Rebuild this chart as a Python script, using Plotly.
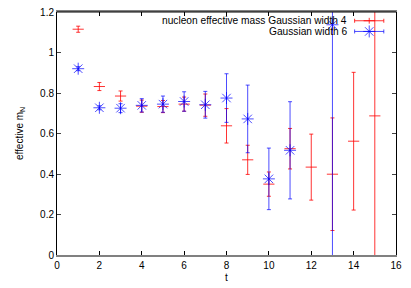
import plotly.graph_objects as go

t4 = [1, 2, 3, 4, 5, 6, 7, 8, 9, 10, 11, 12, 13, 14, 15]
m4 = [1.115, 0.832, 0.785, 0.735, 0.733, 0.745, 0.74, 0.638, 0.47, 0.35, 0.525, 0.434, 0.399, 0.562, 0.687]
e4 = [0.015, 0.02, 0.025, 0.03, 0.03, 0.035, 0.055, 0.085, 0.072, 0.06, 0.10, 0.163, 0.278, 0.34, 0.8]

t6 = [1, 2, 3, 4, 5, 6, 7, 8, 9, 10, 11, 13]
m6 = [0.92, 0.727, 0.725, 0.739, 0.745, 0.758, 0.742, 0.775, 0.672, 0.376, 0.517, 1.137]
e6 = [0.01, 0.01, 0.022, 0.033, 0.04, 0.048, 0.066, 0.12, 0.167, 0.152, 0.24, 1.4]

labels = ["nucleon effective mass Gaussian width 4", "Gaussian width 6"]
xticks = [0, 2, 4, 6, 8, 10, 12, 14, 16]
yticks = [0, 0.2, 0.4, 0.6, 0.8, 1.0, 1.2]
yticktext = ["0", "0.2", "0.4", "0.6", "0.8", "1", "1.2"]

RED = "rgba(255,0,0,0.8)"
BLUE = "rgba(0,0,255,0.7)"
FONT = "Liberation Sans, Arial, sans-serif"

fig = go.Figure()
fig.add_trace(go.Scatter(
    x=t4, y=m4, mode="markers",
    marker=dict(symbol="line-ew", size=8, line=dict(color=RED, width=1), color=RED),
    error_y=dict(type="data", array=e4, color=RED, thickness=1, width=2),
    showlegend=False, cliponaxis=True))
fig.add_trace(go.Scatter(
    x=t6, y=m6, mode="markers",
    marker=dict(symbol="asterisk-open", size=10, line=dict(color=BLUE, width=1), color=BLUE),
    error_y=dict(type="data", array=e6, color=BLUE, thickness=1, width=2),
    showlegend=False, cliponaxis=True))

# legend key samples on a hidden overlay axis (0..1 in plot area)
key_x = 0.921
key_half = 0.043
key_y = [0.964, 0.92]
fig.add_trace(go.Scatter(
    x=[key_x], y=[key_y[0]], mode="markers", xaxis="x2", yaxis="y2",
    marker=dict(symbol="line-ew", size=8, line=dict(color=RED, width=1), color=RED),
    error_x=dict(type="constant", value=key_half, color=RED, thickness=1, width=2),
    error_y=dict(type="constant", value=0.012, color=RED, thickness=1, width=0),
    showlegend=False))
fig.add_trace(go.Scatter(
    x=[key_x], y=[key_y[1]], mode="markers", xaxis="x2", yaxis="y2",
    marker=dict(symbol="asterisk-open", size=10, line=dict(color=BLUE, width=1), color=BLUE),
    error_x=dict(type="constant", value=key_half, color=BLUE, thickness=1, width=2),
    showlegend=False))

for lab, yy in zip(labels, key_y):
    fig.add_annotation(xref="x2", yref="y2", x=0.86, y=yy, text=lab, showarrow=False,
                       xanchor="right", yanchor="middle", font=dict(size=10.2, color="black", family=FONT))

fig.update_layout(
    width=411, height=288,
    margin=dict(l=57, r=15, t=12, b=33, autoexpand=False),
    paper_bgcolor="white", plot_bgcolor="white",
    font=dict(family=FONT, size=10, color="black"),
    xaxis=dict(range=[0, 16], tickvals=xticks, ticks="inside", ticklen=4, tickcolor="black",
               mirror="ticks", showline=True, linecolor="#808080", linewidth=2,
               showgrid=False, zeroline=False, automargin=False,
               title=dict(text="t", standoff=4, font=dict(size=10))),
    yaxis=dict(range=[0, 1.2], tickvals=yticks, ticktext=yticktext, ticks="inside", ticklen=4,
               mirror="ticks", showline=True, linecolor="black", linewidth=1, showgrid=False,
               zeroline=False, automargin=False,
               title=dict(text="effective m<sub>N</sub>", standoff=14, font=dict(size=10))),
    xaxis2=dict(overlaying="x", range=[0, 1], visible=False),
    yaxis2=dict(overlaying="y", range=[0, 1], visible=False),
    shapes=[dict(type="line", xref="paper", yref="paper", x0=0, x1=1, y0=1, y1=1,
                 line=dict(color="black", width=1), layer="above")],
)

fig.write_html("out.html", config={"displayModeBar": False},
               post_script="document.body.style.margin='0';document.body.style.padding='0';")
